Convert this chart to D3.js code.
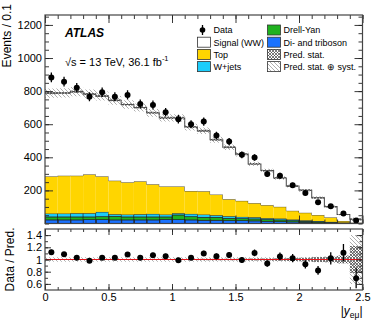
<!DOCTYPE html>
<html>
<head>
<meta charset="utf-8">
<script src="https://cdn.jsdelivr.net/npm/d3@7"></script>
<style>
  body { margin: 0; background: #fff; }
  text { font-family: "Liberation Sans", Arial, sans-serif; }
</style>
</head>
<body>
<div id="chart"></div>
<script>
// bins of |y_emu|, width 0.1
var binLow = [0, 0.1, 0.2, 0.3, 0.4, 0.5, 0.6, 0.7, 0.8, 0.9, 1.0, 1.1, 1.2,
              1.3, 1.4, 1.5, 1.6, 1.7, 1.8, 1.9, 2.0, 2.1, 2.2, 2.3, 2.4];
var binW = 0.1;

var dataEvents = [883, 857, 821, 766, 793, 766, 777, 722, 716, 672, 630, 600, 616,
                  532, 495, 415, 399, 299, 289, 231, 185, 128, 104, 60, 18];
var diboson  = [22, 22, 22, 24, 24, 22, 22, 22, 22, 26, 24, 22, 20, 20, 18, 18, 16, 14, 12, 10, 8, 6, 4, 2, 1];
var drellYan = [18, 18, 18, 16, 18, 22, 18, 18, 18, 14, 28, 20, 18, 18, 14, 12, 12, 10, 10, 8, 6, 5, 3, 2, 1];
var wjets    = [20, 20, 22, 22, 28, 12, 14, 16, 18, 14, 10, 16, 16, 12, 12, 10, 10, 8, 8, 6, 5, 4, 3, 2, 1];
var topQuark = [225, 229, 227, 235, 215, 203, 195, 199, 179, 170, 162, 138, 141,
                125, 103, 97, 85, 79, 71, 53, 46, 36, 27, 9, 2];
var signalWW = [503, 500, 508, 485, 485, 485, 470, 446, 432, 414, 414, 387, 365,
                331, 314, 282, 237, 209, 174, 149, 136, 105, 65, 39, 21];
// relative uncertainties of the prediction
var statRel = [0.008, 0.008, 0.008, 0.008, 0.008, 0.008, 0.008, 0.009, 0.009, 0.01, 0.01, 0.01, 0.011,
               0.012, 0.013, 0.014, 0.015, 0.017, 0.02, 0.025, 0.03, 0.04, 0.045, 0.06, 0.22];
var totRel  = [0.035, 0.035, 0.035, 0.035, 0.035, 0.035, 0.035, 0.035, 0.035, 0.035, 0.035, 0.035, 0.035,
               0.035, 0.035, 0.035, 0.035, 0.035, 0.036, 0.038, 0.04, 0.045, 0.05, 0.07, 0.40];

var mainTicks = [200, 400, 600, 800, 1000, 1200];
var ratioTicks = [0.6, 0.8, 1, 1.2, 1.4];
var xTicks = [0, 0.5, 1, 1.5, 2, 2.5];

var colors = { diboson: "#1a72ff", drellYan: "#1fb21f", wjets: "#1ccdfb", top: "#ffd500", signal: "#ffffff" };

var width = 382, height = 323;
var left = 45, right = 362.5;
var mainTop = 15, mainBot = 223.5, ratTop = 229, ratBot = 290;

var svg = d3.select("#chart").append("svg").attr("width", width).attr("height", height);

var defs = svg.append("defs");
var pSyst = defs.append("pattern").attr("id", "syst").attr("patternUnits", "userSpaceOnUse")
  .attr("width", 4).attr("height", 4);
pSyst.append("path").attr("d", "M-1,-1 L5,5 M-1,3 L1,5 M3,-1 L5,1").attr("stroke", "#9a9a9a").attr("stroke-width", 0.8);
var pStat = defs.append("pattern").attr("id", "stat").attr("patternUnits", "userSpaceOnUse")
  .attr("width", 3).attr("height", 3);
pStat.append("path").attr("d", "M0,0 L3,3 M3,0 L0,3").attr("stroke", "#444").attr("stroke-width", 0.7);

defs.append("clipPath").attr("id", "clipMain").append("rect")
  .attr("x", left).attr("y", mainTop).attr("width", right - left).attr("height", mainBot - mainTop);
defs.append("clipPath").attr("id", "clipRatio").append("rect")
  .attr("x", left).attr("y", ratTop).attr("width", right - left).attr("height", ratBot - ratTop);

var x = d3.scaleLinear().domain([0, 2.5]).range([left, right]);
var y = d3.scaleLinear().domain([0, 1260]).range([mainBot, mainTop]);
var yr = d3.scaleLinear().domain([0.5, 1.5]).range([ratBot, ratTop]);

var rows = binLow.map(function (lo, i) {
  return { lo: lo, diboson: diboson[i], drellYan: drellYan[i], wjets: wjets[i], top: topQuark[i], signal: signalWW[i] };
});
var keys = ["diboson", "drellYan", "wjets", "top", "signal"];
var stacked = d3.stack().keys(keys)(rows);
var pred = rows.map(function (r) { return r.diboson + r.drellYan + r.wjets + r.top + r.signal; });

function stepPts(vals) {
  var pts = vals.map(function (v, i) { return [binLow[i], v]; });
  pts.push([binLow[binLow.length - 1] + binW, vals[vals.length - 1]]);
  return pts;
}

var main = svg.append("g").attr("clip-path", "url(#clipMain)");

// stack
stacked.forEach(function (layer) {
  var g = main.append("g");
  g.selectAll("rect").data(layer).enter().append("rect")
    .attr("x", function (d) { return x(d.data.lo); })
    .attr("width", function (d) { return x(d.data.lo + binW) - x(d.data.lo); })
    .attr("y", function (d) { return y(d[1]); })
    .attr("height", function (d) { return y(d[0]) - y(d[1]); })
    .attr("fill", colors[layer.key])
    .attr("stroke", layer.key === "diboson" || layer.key === "drellYan" || layer.key === "wjets" ? "#1a1a1a" : "none")
    .attr("stroke-width", 0.5);
  var line = d3.line().x(function (d) { return x(d[0]); }).y(function (d) { return y(d[1]); }).curve(d3.curveStepAfter);
  g.append("path")
    .attr("d", line(stepPts(layer.map(function (d) { return d[1]; }))))
    .attr("fill", "none")
    .attr("stroke", layer.key === "signal" ? "#555" : "#333")
    .attr("stroke-width", layer.key === "signal" ? 1.1 : 0.8);
});

// uncertainty bands on the prediction
function band(scaleY, center, rel, fill, g) {
  var pts = stepPts(center.map(function (c, i) { return i; }));
  var area = d3.area()
    .x(function (d) { return x(d[0]); })
    .y0(function (d) { return scaleY(center[d[1]] * (1 - rel[d[1]])); })
    .y1(function (d) { return scaleY(center[d[1]] * (1 + rel[d[1]])); })
    .curve(d3.curveStepAfter);
  g.append("path").attr("d", area(pts)).attr("fill", fill).attr("stroke", "none");
}
band(y, pred, totRel, "url(#syst)", main);
band(y, pred, statRel, "url(#stat)", main);

// data points
var pts = main.append("g");
dataEvents.forEach(function (n, i) {
  var cx = x(binLow[i] + binW / 2), e = Math.sqrt(n);
  pts.append("line").attr("x1", cx).attr("x2", cx).attr("y1", y(n - e)).attr("y2", y(n + e))
    .attr("stroke", "#000").attr("stroke-width", 1.3);
  pts.append("circle").attr("cx", cx).attr("cy", y(n)).attr("r", 3).attr("fill", "#000");
});

// ratio panel
var rat = svg.append("g").attr("clip-path", "url(#clipRatio)");
var ones = pred.map(function () { return 1; });
band(yr, ones, totRel, "url(#syst)", rat);
band(yr, ones, statRel, "url(#stat)", rat);
rat.append("line").attr("x1", left).attr("x2", right).attr("y1", yr(1)).attr("y2", yr(1))
  .attr("stroke", "#e8141a").attr("stroke-width", 1.2);
dataEvents.forEach(function (n, i) {
  var cx = x(binLow[i] + binW / 2), r = n / pred[i], e = Math.sqrt(n) / pred[i];
  rat.append("line").attr("x1", cx).attr("x2", cx).attr("y1", yr(r - e)).attr("y2", yr(r + e))
    .attr("stroke", "#000").attr("stroke-width", 1.3);
  rat.append("circle").attr("cx", cx).attr("cy", yr(r)).attr("r", 3).attr("fill", "#000");
});

// axes
function styleAxis(g) {
  g.select(".domain").remove();
  g.selectAll("line").attr("stroke", "#222").attr("stroke-width", 0.9);
  g.selectAll("text").attr("font-size", "11px").attr("fill", "#000")
    .attr("font-family", "'Liberation Sans', Arial, sans-serif");
}
function frame(t, b) {
  svg.append("rect").attr("x", left).attr("y", t).attr("width", right - left).attr("height", b - t)
    .attr("fill", "none").attr("stroke", "#444").attr("stroke-width", 1.2);
}

var minorX = d3.range(0, 26).map(function (i) { return i / 10; });
var minorY = d3.range(0, 1260, 50);
var minorR = [0.6, 0.7, 0.8, 0.9, 1.0, 1.1, 1.2, 1.3, 1.4];

// main y
svg.append("g").attr("transform", "translate(" + left + ",0)")
  .call(d3.axisLeft(y).tickValues(mainTicks).tickSize(-8).tickPadding(3).tickFormat(d3.format("d"))).call(styleAxis);
svg.append("g").attr("transform", "translate(" + left + ",0)")
  .call(d3.axisLeft(y).tickValues(minorY).tickSize(-4).tickFormat("")).call(styleAxis);
svg.append("g").attr("transform", "translate(" + right + ",0)")
  .call(d3.axisRight(y).tickValues(mainTicks).tickSize(-8).tickFormat("")).call(styleAxis);
svg.append("g").attr("transform", "translate(" + right + ",0)")
  .call(d3.axisRight(y).tickValues(minorY).tickSize(-4).tickFormat("")).call(styleAxis);
// main x (top and bottom)
[[mainTop, d3.axisTop], [mainBot, d3.axisBottom]].forEach(function (p) {
  svg.append("g").attr("transform", "translate(0," + p[0] + ")")
    .call(p[1](x).tickValues(xTicks).tickSize(-8).tickFormat("")).call(styleAxis);
  svg.append("g").attr("transform", "translate(0," + p[0] + ")")
    .call(p[1](x).tickValues(minorX).tickSize(-4).tickFormat("")).call(styleAxis);
});
// ratio y
svg.append("g").attr("transform", "translate(" + left + ",0)")
  .call(d3.axisLeft(yr).tickValues(ratioTicks).tickSize(-6).tickPadding(3).tickFormat(d3.format("~g"))).call(styleAxis);
svg.append("g").attr("transform", "translate(" + left + ",0)")
  .call(d3.axisLeft(yr).tickValues(minorR).tickSize(-3).tickFormat("")).call(styleAxis);
svg.append("g").attr("transform", "translate(" + right + ",0)")
  .call(d3.axisRight(yr).tickValues(ratioTicks).tickSize(-6).tickFormat("")).call(styleAxis);
svg.append("g").attr("transform", "translate(" + right + ",0)")
  .call(d3.axisRight(yr).tickValues(minorR).tickSize(-3).tickFormat("")).call(styleAxis);
// ratio x
svg.append("g").attr("transform", "translate(0," + ratTop + ")")
  .call(d3.axisTop(x).tickValues(xTicks).tickSize(-6).tickFormat("")).call(styleAxis);
svg.append("g").attr("transform", "translate(0," + ratTop + ")")
  .call(d3.axisTop(x).tickValues(minorX).tickSize(-3).tickFormat("")).call(styleAxis);
svg.append("g").attr("transform", "translate(0," + ratBot + ")")
  .call(d3.axisBottom(x).tickValues(xTicks).tickSize(-6).tickPadding(3).tickFormat(d3.format("~g"))).call(styleAxis);
svg.append("g").attr("transform", "translate(0," + ratBot + ")")
  .call(d3.axisBottom(x).tickValues(minorX).tickSize(-3).tickFormat("")).call(styleAxis);

frame(mainTop, mainBot);
frame(ratTop, ratBot);

// axis titles
svg.append("text").attr("transform", "translate(10.5,4) rotate(-90)").attr("text-anchor", "end")
  .attr("font-size", "12px").text("Events / 0.1");
svg.append("text").attr("transform", "translate(14," + ((ratTop + ratBot) / 2) + ") rotate(-90)")
  .attr("text-anchor", "middle").attr("font-size", "12px").text("Data / Pred.");
var xl = svg.append("text").attr("x", right).attr("y", 314.5).attr("text-anchor", "end").attr("font-size", "12px");
xl.append("tspan").text("|");
xl.append("tspan").attr("font-style", "italic").text("y");
xl.append("tspan").attr("font-size", "8.5px").attr("dy", 3).text("eμ");
xl.append("tspan").attr("dy", -3).text("|");

// labels
svg.append("text").attr("x", 65).attr("y", 37).attr("font-size", "12px")
  .attr("font-weight", "bold").attr("font-style", "italic").text("ATLAS");
var lum = svg.append("text").attr("x", 65).attr("y", 65.5).attr("font-size", "11px");
lum.append("tspan").text("√s = 13 TeV, 36.1 fb");
lum.append("tspan").attr("font-size", "7.5px").attr("dy", -4.5).text("-1");

// legend
var legendItems = [
  { label: "Data", type: "data", col: 0, row: 0 },
  { label: "Signal (WW)", fill: colors.signal, col: 0, row: 1 },
  { label: "Top", fill: colors.top, col: 0, row: 2 },
  { label: "W+jets", fill: colors.wjets, col: 0, row: 3 },
  { label: "Drell-Yan", fill: colors.drellYan, col: 1, row: 0 },
  { label: "Di- and triboson", fill: colors.diboson, col: 1, row: 1 },
  { label: "Pred. stat.", fill: "url(#stat)", col: 1, row: 2 },
  { label: "Pred. stat. ⊕ syst.", fill: "url(#syst)", col: 1, row: 3 }
];
var colX = [197.5, 267.5];
legendItems.forEach(function (it) {
  var lx = colX[it.col], ly = 30 + it.row * 12.2;
  var g = svg.append("g");
  if (it.type === "data") {
    g.append("line").attr("x1", lx + 5).attr("x2", lx + 5).attr("y1", ly - 5).attr("y2", ly + 5)
      .attr("stroke", "#000").attr("stroke-width", 1.3);
    g.append("circle").attr("cx", lx + 5).attr("cy", ly).attr("r", 2.8).attr("fill", "#000");
  } else {
    g.append("rect").attr("x", lx).attr("y", ly - 5).attr("width", 13).attr("height", 10)
      .attr("fill", it.fill).attr("stroke", "#333").attr("stroke-width", 0.8);
  }
  g.append("text").attr("x", lx + 16).attr("y", ly + 3.3).attr("font-size", "9px").text(it.label);
});
</script>
</body>
</html>
